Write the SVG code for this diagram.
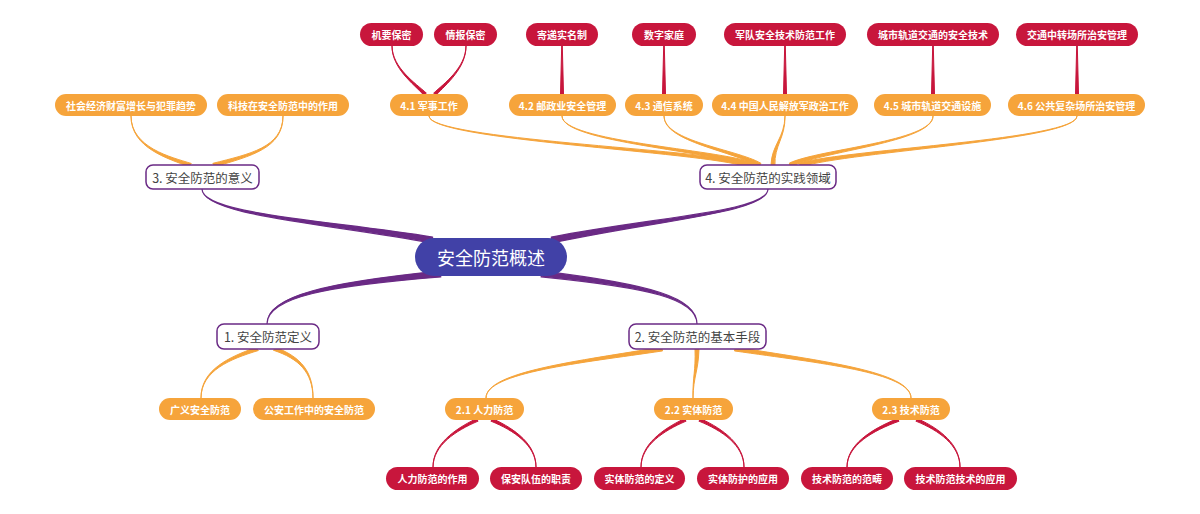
<svg xmlns="http://www.w3.org/2000/svg" width="1200" height="514" viewBox="0 0 1200 514">
<style>
text{font-family:"Noto Sans CJK SC","Noto Sans",sans-serif;text-anchor:middle;dominant-baseline:central}
.c1{fill:#6a2a85;stroke:#6a2a85;stroke-width:1.2;stroke-linejoin:round}
.c2{fill:#f5a43b;stroke:#f5a43b;stroke-width:1;stroke-linejoin:round}
.c3{fill:#c8163c;stroke:#c8163c;stroke-width:1;stroke-linejoin:round}
.root rect{fill:#4141a7}
.root text{fill:#fff;font-size:18px}
.l1 rect{fill:#fff;stroke:#6a2a85;stroke-width:1.5}
.l1 text{fill:#444;font-size:12.5px}
.l2 rect{fill:#f6a43b}
.l3 rect{fill:#c8163c}
.l2 text,.l3 text{fill:#fff;font-size:10px;font-weight:bold}
</style>
<rect width="1200" height="514" fill="#fff"/>
<g id="connectors">
<path class="c1" d="M 432.65,237.07 C 330.39,220.24 202.13,214.41 202,189 C 201.87,215.59 329.61,223.76 431.35,242.93 Z"/>
<path class="c1" d="M 552.69,242.92 C 660.41,219.75 768.14,212.58 768,189 C 767.86,211.42 659.59,216.25 551.31,237.08 Z"/>
<path class="c1" d="M 440.83,276.88 C 330.5,285.73 267.17,296.58 267,324 C 266.83,295.42 329.5,282.27 439.17,271.12 Z"/>
<path class="c1" d="M 541.08,276.85 C 649.45,287.71 696.82,298.57 697,324 C 697.18,297.43 650.55,284.29 542.92,271.15 Z"/>
<path class="c2" d="M 191.28,163.46 C 170.77,157.08 131.26,147.69 131,116 C 130.74,148.31 169.23,158.92 188.72,166.54 Z"/>
<path class="c2" d="M 215.16,166.63 C 250.69,155.98 283.23,148.33 283,116 C 282.77,147.67 249.31,154.02 212.84,163.37 Z"/>
<path class="c2" d="M 748.3,163.02 C 700.18,148.81 429.06,139.6 429,116 C 428.94,140.4 699.82,151.19 747.7,166.98 Z"/>
<path class="c2" d="M 754.49,163.06 C 715.3,148.84 562.1,141.61 562,116 C 561.9,142.39 714.7,151.16 753.51,166.94 Z"/>
<path class="c2" d="M 760.91,163.22 C 735.55,148.93 664.18,141.64 664,116 C 663.82,142.36 734.45,151.07 759.09,166.78 Z"/>
<path class="c2" d="M 774.94,165.48 C 774.17,145.29 785.39,138.1 785,116 C 784.61,137.9 771.83,144.71 771.06,164.52 Z"/>
<path class="c2" d="M 790.65,166.89 C 820.39,151.14 933.13,142.38 933,116 C 932.87,141.62 819.61,148.86 789.35,163.11 Z"/>
<path class="c2" d="M 800.35,166.97 C 850.21,151.18 1077.07,140.39 1077,116 C 1076.93,139.61 849.79,148.82 799.65,163.03 Z"/>
<path class="c2" d="M 258.32,350.51 C 230.79,358.9 201.26,370.3 201,398 C 200.74,369.7 229.21,357.1 255.68,347.49 Z"/>
<path class="c2" d="M 273.42,350.23 C 299.05,358.74 312.68,372.25 313,398 C 313.32,371.75 300.95,357.26 276.58,347.77 Z"/>
<path class="c2" d="M 662.54,350.93 C 580.32,363.16 486.11,372.39 486,398 C 485.89,371.61 579.68,360.84 661.46,347.07 Z"/>
<path class="c2" d="M 699,349.16 C 698.2,372.1 693.4,376.03 693,398 C 692.6,375.97 695.8,371.9 695,348.84 Z"/>
<path class="c2" d="M 734.46,350.93 C 819.68,363.16 910.89,372.39 911,398 C 911.11,371.61 820.32,360.84 735.54,347.07 Z"/>
<path class="c3" d="M 426.32,93.09 C 415.79,83.46 392.26,67.82 392,46 C 391.74,68.18 414.21,84.54 423.68,94.91 Z"/>
<path class="c3" d="M 436.34,94.87 C 445.81,84.52 466.27,68.17 466,46 C 465.73,67.83 444.19,83.48 433.66,93.13 Z"/>
<path class="c3" d="M 560.5,94 L 561.7,46 L 562.3,46 L 563.5,94 Z"/>
<path class="c3" d="M 662.5,94 L 663.7,46 L 664.3,46 L 665.5,94 Z"/>
<path class="c3" d="M 783.5,94 L 784.7,46 L 785.3,46 L 786.5,94 Z"/>
<path class="c3" d="M 931.5,94 L 932.7,46 L 933.3,46 L 934.5,94 Z"/>
<path class="c3" d="M 1075.5,94 L 1076.7,46 L 1077.3,46 L 1078.5,94 Z"/>
<path class="c3" d="M 478.17,421.09 C 455.7,430.66 433.23,445.22 433,467 C 432.77,444.78 454.3,429.34 475.83,418.91 Z"/>
<path class="c3" d="M 490.83,421.09 C 514.3,430.66 535.77,445.22 536,467 C 536.23,444.78 515.7,429.34 493.17,418.91 Z"/>
<path class="c3" d="M 686.17,421.09 C 663.7,430.66 641.23,445.22 641,467 C 640.77,444.78 662.3,429.34 683.83,418.91 Z"/>
<path class="c3" d="M 698.83,421.09 C 722.3,430.66 743.77,445.22 744,467 C 744.23,444.78 723.7,429.34 701.17,418.91 Z"/>
<path class="c3" d="M 899.08,421.18 C 872.65,430.71 847.22,445.24 847,467 C 846.78,444.76 871.35,429.29 896.92,418.82 Z"/>
<path class="c3" d="M 915.83,421.09 C 939.3,430.66 959.77,445.22 960,467 C 960.23,444.78 940.7,429.34 918.17,418.91 Z"/>
</g>
<g id="root" class="root"><rect x="415" y="238" width="152" height="38" rx="19"/><text x="491" y="257">安全防范概述</text></g>
<g id="n1" class="l1"><rect x="217" y="324" width="102" height="25" rx="7"/><text x="268" y="336.5">1. 安全防范定义</text></g>
<g id="n2" class="l1"><rect x="629" y="324" width="137" height="25" rx="7"/><text x="697.5" y="336.5">2. 安全防范的基本手段</text></g>
<g id="n3" class="l1"><rect x="146" y="165" width="113" height="24" rx="7"/><text x="202.5" y="177">3. 安全防范的意义</text></g>
<g id="n4" class="l1"><rect x="700" y="165" width="136" height="24" rx="7"/><text x="768" y="177">4. 安全防范的实践领域</text></g>
<g id="n1-1" class="l2"><rect x="159" y="398" width="82" height="22" rx="11"/><text x="200" y="409">广义安全防范</text></g>
<g id="n1-2" class="l2"><rect x="253" y="398" width="122" height="22" rx="11"/><text x="314" y="409">公安工作中的安全防范</text></g>
<g id="n2-1" class="l2"><rect x="445" y="398" width="79" height="22" rx="11"/><text x="484.5" y="409">2.1 人力防范</text></g>
<g id="n2-2" class="l2"><rect x="654" y="398" width="79" height="22" rx="11"/><text x="693.5" y="409">2.2 实体防范</text></g>
<g id="n2-3" class="l2"><rect x="872" y="398" width="78" height="22" rx="11"/><text x="911" y="409">2.3 技术防范</text></g>
<g id="n3-1" class="l2"><rect x="55" y="94" width="152" height="22" rx="11"/><text x="131" y="105">社会经济财富增长与犯罪趋势</text></g>
<g id="n3-2" class="l2"><rect x="217" y="94" width="132" height="22" rx="11"/><text x="283" y="105">科技在安全防范中的作用</text></g>
<g id="n4-1" class="l2"><rect x="390" y="94" width="78" height="22" rx="11"/><text x="429" y="105">4.1 军事工作</text></g>
<g id="n4-2" class="l2"><rect x="509" y="94" width="107" height="22" rx="11"/><text x="562.5" y="105">4.2 邮政业安全管理</text></g>
<g id="n4-3" class="l2"><rect x="625" y="94" width="78" height="22" rx="11"/><text x="664" y="105">4.3 通信系统</text></g>
<g id="n4-4" class="l2"><rect x="712" y="94" width="146" height="22" rx="11"/><text x="785" y="105">4.4 中国人民解放军政治工作</text></g>
<g id="n4-5" class="l2"><rect x="874" y="94" width="117" height="22" rx="11"/><text x="932.5" y="105">4.5 城市轨道交通设施</text></g>
<g id="n4-6" class="l2"><rect x="1008" y="94" width="137" height="22" rx="11"/><text x="1076.5" y="105">4.6 公共复杂场所治安管理</text></g>
<g id="n4-1-1" class="l3"><rect x="360" y="23" width="63" height="23" rx="11.5"/><text x="391.5" y="34.5">机要保密</text></g>
<g id="n4-1-2" class="l3"><rect x="434" y="23" width="63" height="23" rx="11.5"/><text x="465.5" y="34.5">情报保密</text></g>
<g id="n4-2-1" class="l3"><rect x="526" y="23" width="72" height="23" rx="11.5"/><text x="562" y="34.5">寄递实名制</text></g>
<g id="n4-3-1" class="l3"><rect x="632" y="23" width="64" height="23" rx="11.5"/><text x="664" y="34.5">数字家庭</text></g>
<g id="n4-4-1" class="l3"><rect x="724" y="23" width="122" height="23" rx="11.5"/><text x="785" y="34.5">军队安全技术防范工作</text></g>
<g id="n4-5-1" class="l3"><rect x="867" y="23" width="132" height="23" rx="11.5"/><text x="933" y="34.5">城市轨道交通的安全技术</text></g>
<g id="n4-6-1" class="l3"><rect x="1016" y="23" width="122" height="23" rx="11.5"/><text x="1077" y="34.5">交通中转场所治安管理</text></g>
<g id="n2-1-1" class="l3"><rect x="386" y="467" width="93" height="23" rx="11.5"/><text x="432.5" y="478.5">人力防范的作用</text></g>
<g id="n2-1-2" class="l3"><rect x="490" y="467" width="92" height="23" rx="11.5"/><text x="536" y="478.5">保安队伍的职责</text></g>
<g id="n2-2-1" class="l3"><rect x="594" y="467" width="91" height="23" rx="11.5"/><text x="639.5" y="478.5">实体防范的定义</text></g>
<g id="n2-2-2" class="l3"><rect x="697" y="467" width="92" height="23" rx="11.5"/><text x="743" y="478.5">实体防护的应用</text></g>
<g id="n2-3-1" class="l3"><rect x="801" y="467" width="92" height="23" rx="11.5"/><text x="847" y="478.5">技术防范的范畴</text></g>
<g id="n2-3-2" class="l3"><rect x="904" y="467" width="113" height="23" rx="11.5"/><text x="960.5" y="478.5">技术防范技术的应用</text></g>
</svg>
